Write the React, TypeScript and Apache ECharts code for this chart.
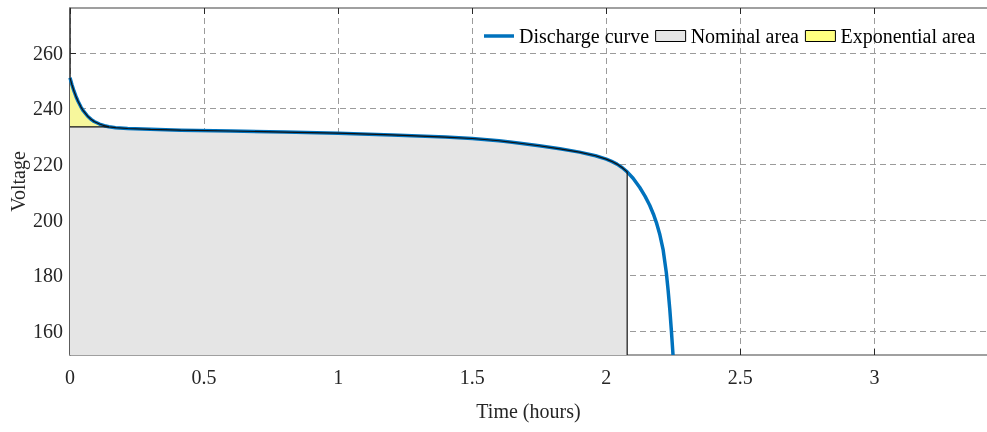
import React, { useEffect, useRef } from "react";
import * as echarts from "echarts";

// Discharge curve (time in hours, voltage)
const curveTime = [
  0, 0.007, 0.015, 0.022, 0.03, 0.041, 0.05, 0.066, 0.08, 0.09, 0.11, 0.128, 0.145, 0.17, 0.215, 0.3, 0.413,
  0.6, 0.8, 1.0, 1.2, 1.4, 1.5, 1.6, 1.678, 1.75, 1.827, 1.9, 1.96, 2.0, 2.02, 2.04, 2.06, 2.078,
  2.1, 2.125, 2.145, 2.162, 2.176, 2.187, 2.2, 2.212, 2.224, 2.2305, 2.237, 2.243, 2.249,
];
const curveVoltage = [
  251.0, 248.6, 246.2, 244.4, 242.6, 240.5, 239.1, 237.2, 236.0, 235.3, 234.4, 233.8, 233.4, 233.1, 232.8, 232.5, 232.2,
  231.9, 231.5, 231.1, 230.5, 229.7, 229.2, 228.4, 227.5, 226.6, 225.5, 224.3, 223.0, 221.8, 221.0, 220.0, 218.7, 217.2,
  214.9, 211.6, 208.4, 205.2, 202.0, 199.0, 194.6, 189.3, 181.0, 174.9, 167.8, 160.0, 151.4,
];
const expEndTime = 0.145;
const expBaseVoltage = 233.4;
const nominalEndTime = 2.078;

const xTicks = [0, 0.5, 1, 1.5, 2, 2.5, 3];
const yTicks = [160, 180, 200, 220, 240, 260];
const xMin = 0;
const xMax = 3.42;
const yMin = 151.4;
const yMax = 276.1;

const FONT = "Liberation Serif";

export default function App() {
  const ref = useRef<HTMLDivElement>(null);

  useEffect(() => {
    if (!ref.current) return;
    const chart = echarts.init(ref.current, undefined, { renderer: "svg" });

    const curve = curveTime.map((t, i) => [t, curveVoltage[i]]);
    const nominalTop = curve
      .filter(([t]) => t <= nominalEndTime)
      .map(([t, v]) => [t, t <= expEndTime ? Math.min(v, expBaseVoltage) : v]);
    const nominalFill = [...nominalTop, [nominalEndTime, yMin]];
    const expFill = curve.filter(([t]) => t <= expEndTime);
    const nominalEdge = [
      ...curve.filter(([t]) => t <= nominalEndTime),
      [nominalEndTime, yMin],
    ];
    const expBaseEdge = [
      [0, expBaseVoltage],
      [expEndTime, expBaseVoltage],
    ];

    const gridLine = { show: true, lineStyle: { color: "#9b9b9b", type: [6, 4] as any, width: 1 } };
    const edgeStyle = { color: "#111", width: 1.2 };

    chart.setOption({
      animation: false,
      grid: { left: 70, right: 0, top: 8, bottom: 77, containLabel: false, outerBoundsMode: "none" } as any,
      legend: {
        left: 484,
        top: 26,
        padding: 0,
        itemWidth: 30,
        itemHeight: 11,
        itemGap: 6,
        textStyle: { fontFamily: FONT, fontSize: 20, color: "#000" },
        data: [
          {
            name: "Discharge curve",
            icon: "path://M0,0 H30 V3.5 H0 Z",
            itemStyle: { color: "#0072BD", borderWidth: 0 },
          },
          {
            name: "Nominal area",
            icon: "rect",
            itemStyle: { color: "#e5e5e5", borderColor: "#000", borderWidth: 1 },
          },
          {
            name: "Exponential area",
            icon: "rect",
            itemStyle: { color: "#ffff80", borderColor: "#000", borderWidth: 1 },
          },
        ],
      },
      xAxis: [
        {
          type: "value",
          min: xMin,
          max: xMax,
          name: "Time (hours)",
          nameLocation: "middle",
          nameGap: 46,
          nameMoveOverlap: false,
          nameTextStyle: { fontFamily: FONT, fontSize: 20, color: "#262626" },
          axisLine: { show: true, onZero: false, lineStyle: { color: "#808080", width: 1.5 } },
          axisTick: { show: true, inside: true, length: 6, customValues: xTicks, lineStyle: { color: "#262626" } },
          axisLabel: {
            customValues: xTicks,
            margin: 12,
            fontFamily: FONT,
            fontSize: 20,
            color: "#262626",
          },
          splitLine: { ...gridLine, customValues: xTicks } as any,
        } as any,
        {
          type: "value",
          position: "top",
          min: xMin,
          max: xMax,
          axisLine: { show: true, onZero: false, lineStyle: { color: "#808080", width: 1.5 } },
          axisTick: { show: true, inside: true, length: 6, customValues: xTicks, lineStyle: { color: "#262626" } },
          axisLabel: { show: false },
          splitLine: { show: false },
        },
      ],
      yAxis: {
        type: "value",
        min: yMin,
        max: yMax,
        name: "Voltage",
        nameLocation: "middle",
        nameGap: 42,
        nameMoveOverlap: false,
        nameTextStyle: { fontFamily: FONT, fontSize: 20, color: "#262626" },
        axisLine: { show: true, onZero: false, lineStyle: { color: "#262626", width: 1.5 } },
        axisTick: { show: true, inside: true, length: 6, customValues: yTicks, lineStyle: { color: "#262626" } },
        axisLabel: {
          customValues: yTicks,
          margin: 7,
          fontFamily: FONT,
          fontSize: 20,
          color: "#262626",
        },
        splitLine: { ...gridLine, customValues: yTicks } as any,
      } as any,
      series: [
        {
          name: "Nominal area",
          type: "line",
          data: nominalFill,
          symbol: "none",
          z: 1,
          lineStyle: { width: 0, opacity: 0 },
          itemStyle: { color: "#e5e5e5" },
          areaStyle: { color: "#e5e5e5", opacity: 1, origin: "start" },
        },
        {
          name: "Exponential area",
          type: "line",
          data: expFill,
          symbol: "none",
          z: 1,
          lineStyle: { width: 0, opacity: 0 },
          itemStyle: { color: "#ffff80" },
          areaStyle: { color: "#f7f79c", opacity: 1, origin: expBaseVoltage },
        },
        {
          name: "Discharge curve",
          type: "line",
          data: curve,
          symbol: "none",
          showSymbol: false,
          z: 2,
          lineStyle: { color: "#0072BD", width: 3.5, join: "round" },
          itemStyle: { color: "#0072BD" },
        },
        {
          name: "nominalEdge",
          type: "line",
          data: nominalEdge,
          symbol: "none",
          z: 3,
          silent: true,
          lineStyle: edgeStyle,
        },
        {
          name: "expBaseEdge",
          type: "line",
          data: expBaseEdge,
          symbol: "none",
          z: 3,
          silent: true,
          lineStyle: edgeStyle,
        },
      ],
    });

    return () => chart.dispose();
  }, []);

  return (
    <div
      ref={ref}
      style={{ position: "fixed", left: 0, top: 0, width: 987, height: 432 }}
    />
  );
}
